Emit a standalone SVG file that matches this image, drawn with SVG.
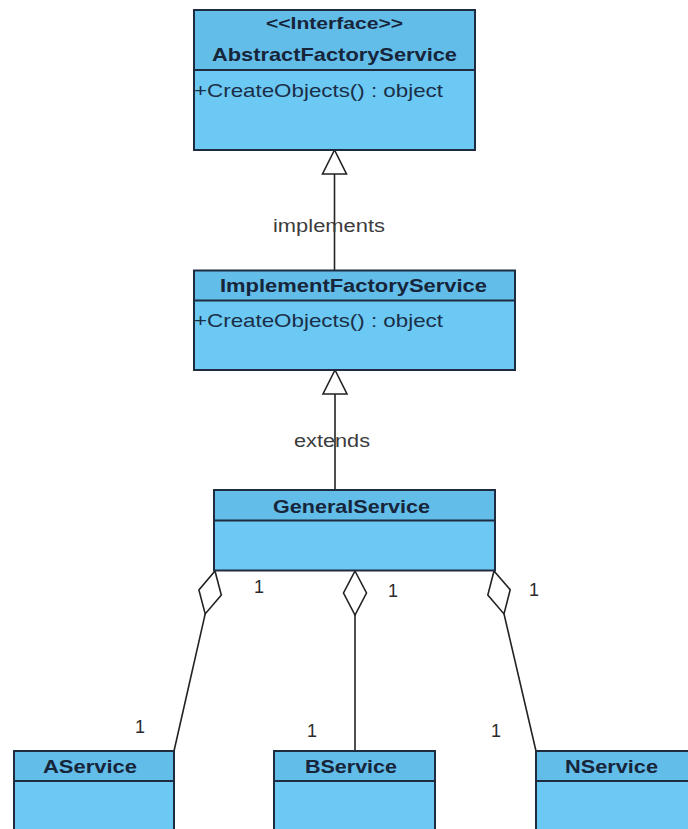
<svg xmlns="http://www.w3.org/2000/svg" width="688" height="829" viewBox="0 0 688 829">
  <style>
    .hdr { fill: #62BDE9; }
    .body { fill: #6CC9F3; }
    .frame { fill: none; stroke: #1F2C40; stroke-width: 2; }
    .sep { stroke: #1F2C40; stroke-width: 2; }
    .name { font-family: "Liberation Sans", Arial, sans-serif; font-size: 19px; font-weight: bold; fill: #17253A; }
    .op { font-family: "Liberation Sans", Arial, sans-serif; font-size: 19px; fill: #1B2E48; }
    .lbl { font-family: "Liberation Sans", Arial, sans-serif; font-size: 18px; fill: #3C3C3C; }
    .mult { font-family: "Liberation Sans", Arial, sans-serif; font-size: 18px; fill: #2A2A2A; }
    .edge { fill: none; stroke: #222222; stroke-width: 1.6; }
    .head { fill: #FFFFFF; stroke: #222222; stroke-width: 1.6; stroke-linejoin: miter; }
  </style>
  <rect width="688" height="829" fill="#FFFFFF"/>

  <!-- connectors -->
  <g id="connectors">
    <!-- realization: ImplementFactoryService -> AbstractFactoryService -->
    <line class="edge" x1="334.5" y1="174" x2="334.5" y2="270.5"/>
    <polygon class="head" points="334.5,150 322.5,174 346.5,174"/>
    <text class="lbl" x="273" y="232" textLength="112" lengthAdjust="spacingAndGlyphs">implements</text>

    <!-- generalization: GeneralService -> ImplementFactoryService -->
    <line class="edge" x1="335" y1="394" x2="335" y2="490"/>
    <polygon class="head" points="335,370 323,394 347,394"/>
    <text class="lbl" x="294" y="447" textLength="76" lengthAdjust="spacingAndGlyphs">extends</text>

    <!-- aggregations from GeneralService -->
    <line class="edge" x1="205.2" y1="613.9" x2="174" y2="751"/>
    <polygon class="head" points="215,571 221.3,595 205.2,613.9 198.9,589.9"/>
    <text class="mult" x="254" y="593">1</text>
    <text class="mult" x="135" y="733">1</text>

    <line class="edge" x1="355" y1="615" x2="355" y2="751"/>
    <polygon class="head" points="355,571 366.5,593 355,615 343.5,593"/>
    <text class="mult" x="388" y="597">1</text>
    <text class="mult" x="307" y="737">1</text>

    <line class="edge" x1="504" y1="613.9" x2="536" y2="751"/>
    <polygon class="head" points="494,571 510.2,589.8 504,613.9 487.8,595"/>
    <text class="mult" x="529" y="596">1</text>
    <text class="mult" x="491" y="737">1</text>
  </g>

  <!-- interface -->
  <g id="AbstractFactoryService">
    <rect class="hdr" x="194" y="10" width="281" height="60"/>
    <rect class="body" x="194" y="70" width="281" height="80"/>
    <rect class="frame" x="194" y="10" width="281" height="140"/>
    <line class="sep" x1="194" y1="70" x2="475" y2="70"/>
    <text class="name" x="266" y="29" textLength="137" lengthAdjust="spacingAndGlyphs" style="font-size:17px">&lt;&lt;Interface&gt;&gt;</text>
    <text class="name" x="212" y="61" textLength="245" lengthAdjust="spacingAndGlyphs">AbstractFactoryService</text>
    <text class="op" x="194" y="97" textLength="249" lengthAdjust="spacingAndGlyphs">+CreateObjects() : object</text>
  </g>

  <g id="ImplementFactoryService">
    <rect class="hdr" x="194" y="270.5" width="321" height="30"/>
    <rect class="body" x="194" y="300.5" width="321" height="69.5"/>
    <rect class="frame" x="194" y="270.5" width="321" height="99.5"/>
    <line class="sep" x1="194" y1="300.5" x2="515" y2="300.5"/>
    <text class="name" x="220" y="292" textLength="267" lengthAdjust="spacingAndGlyphs">ImplementFactoryService</text>
    <text class="op" x="194" y="327" textLength="249" lengthAdjust="spacingAndGlyphs">+CreateObjects() : object</text>
  </g>

  <g id="GeneralService">
    <rect class="hdr" x="214" y="490" width="281" height="30.5"/>
    <rect class="body" x="214" y="520.5" width="281" height="50"/>
    <rect class="frame" x="214" y="490" width="281" height="80.5"/>
    <line class="sep" x1="214" y1="520.5" x2="495" y2="520.5"/>
    <text class="name" x="273" y="513" textLength="157" lengthAdjust="spacingAndGlyphs">GeneralService</text>
  </g>

  <g id="AService">
    <rect class="hdr" x="14" y="751" width="160" height="30"/>
    <rect class="body" x="14" y="781" width="160" height="60"/>
    <rect class="frame" x="14" y="751" width="160" height="90"/>
    <line class="sep" x1="14" y1="781" x2="174" y2="781"/>
    <text class="name" x="43" y="773" textLength="94" lengthAdjust="spacingAndGlyphs">AService</text>
  </g>

  <g id="BService">
    <rect class="hdr" x="274" y="751" width="161" height="30"/>
    <rect class="body" x="274" y="781" width="161" height="60"/>
    <rect class="frame" x="274" y="751" width="161" height="90"/>
    <line class="sep" x1="274" y1="781" x2="435" y2="781"/>
    <text class="name" x="305" y="773" textLength="92" lengthAdjust="spacingAndGlyphs">BService</text>
  </g>

  <g id="NService">
    <rect class="hdr" x="536" y="751" width="160" height="30"/>
    <rect class="body" x="536" y="781" width="160" height="60"/>
    <rect class="frame" x="536" y="751" width="160" height="90"/>
    <line class="sep" x1="536" y1="781" x2="696" y2="781"/>
    <text class="name" x="565" y="773" textLength="93" lengthAdjust="spacingAndGlyphs">NService</text>
  </g>
</svg>
